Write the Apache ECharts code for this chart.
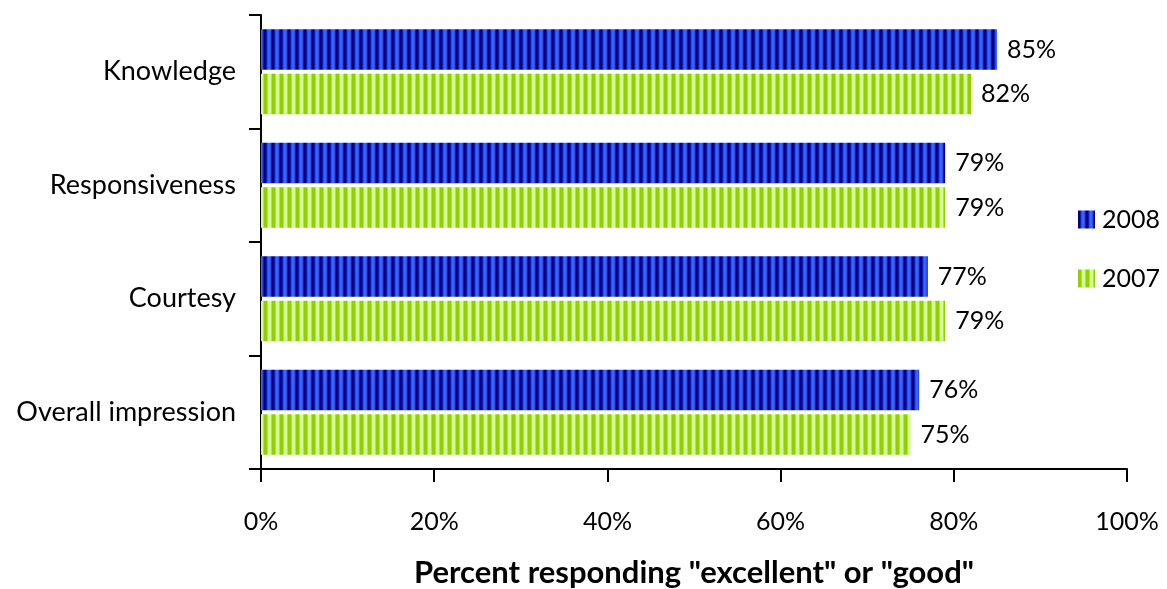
<!DOCTYPE html>
<html>
<head>
<meta charset="utf-8">
<script src="https://cdn.jsdelivr.net/npm/echarts@6/dist/echarts.min.js"></script>
<style>
  html, body { margin: 0; padding: 0; background: #fff; }
  #chart { width: 1167px; height: 589px; }
</style>
</head>
<body>
<div id="chart"></div>
<script>
const categories = ['Knowledge', 'Responsiveness', 'Courtesy', 'Overall impression'];
const values2008 = [85, 79, 77, 76];
const values2007 = [82, 79, 79, 75];
const xTicks = [0, 20, 40, 60, 80, 100];

// Vertical stripe fills built on small canvases
function stripes(cols) {
  const c = document.createElement('canvas');
  c.width = cols.length; c.height = 4;
  const g = c.getContext('2d');
  cols.forEach((col, i) => { g.fillStyle = col; g.fillRect(i, 0, 1, 4); });
  return { image: c, repeat: 'repeat' };
}
const bluePattern = stripes(['#000080', '#000080', '#0f1fa8', '#2a4ee6', '#3a62ff', '#3a62ff', '#2a4ee6', '#0f1fa8']);
const greenPattern = stripes(['#99cc00', '#99cc00', '#99cc00', '#b5e04d', '#ccff99', '#ccff99', '#ccff99', '#b5e04d']);

const FONT = 'Lato';
const chart = echarts.init(document.getElementById('chart'), null, { renderer: 'canvas' });

const valueLabel = {
  show: true, position: 'right', distance: 10,
  fontSize: 25, color: '#000', fontFamily: FONT, formatter: '{c}%'
};

chart.setOption({
  animation: false,
  textStyle: { fontFamily: FONT, color: '#000' },
  grid: { left: 261, right: 40, top: 15, bottom: 120, outerBoundsMode: 'none', containLabel: false },
  legend: {
    orient: 'vertical',
    left: 1073, top: 202,
    icon: 'rect',
    itemWidth: 17, itemHeight: 18, itemGap: 34,
    textStyle: { fontFamily: FONT, fontSize: 25, color: '#000', padding: [0, 0, 0, 2] },
    data: ['2008', '2007']
  },
  xAxis: {
    type: 'value',
    min: 0, max: 100, interval: 20,
    axisLine: { show: true, lineStyle: { color: '#000', width: 2 } },
    axisTick: { show: true, length: 13, lineStyle: { color: '#000', width: 2 } },
    splitLine: { show: false },
    axisLabel: { margin: 40, fontSize: 25, color: '#000', fontFamily: FONT,
      formatter: v => xTicks.includes(v) ? v + '%' : '' },
    name: 'Percent responding "excellent" or "good"',
    nameLocation: 'middle', nameGap: 88,
    nameTextStyle: { fontSize: 31, fontWeight: 'bold', color: '#000', fontFamily: FONT }
  },
  yAxis: {
    type: 'category',
    data: categories,
    inverse: true,
    axisLine: { show: true, lineStyle: { color: '#000', width: 2 } },
    axisTick: { show: true, length: 12, lineStyle: { color: '#000', width: 2 } },
    axisLabel: { margin: 25, fontSize: 27, color: '#000', fontFamily: FONT }
  },
  series: [
    {
      name: '2008', type: 'bar', data: values2008,
      barGap: '10%', barCategoryGap: '25%',
      itemStyle: { color: bluePattern },
      label: valueLabel
    },
    {
      name: '2007', type: 'bar', data: values2007,
      itemStyle: { color: greenPattern },
      label: valueLabel
    }
  ]
});
</script>
</body>
</html>
